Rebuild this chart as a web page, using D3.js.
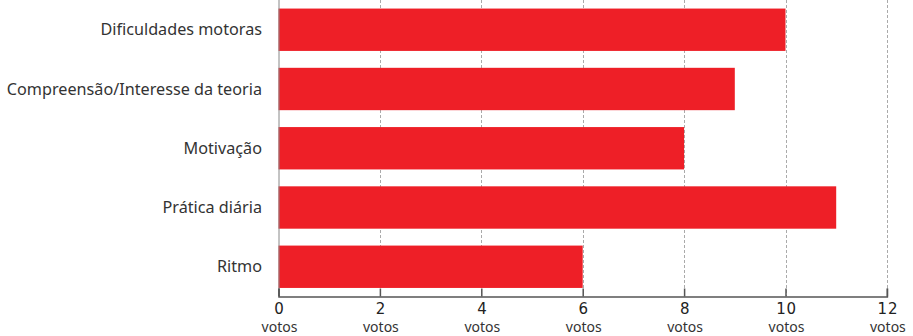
<!DOCTYPE html>
<html>
<head>
<meta charset="utf-8">
<script src="https://cdn.jsdelivr.net/npm/d3@7"></script>
<style>
  body { margin: 0; background: #fff; }
  svg { display: block; }
</style>
</head>
<body>
<div id="chart"></div>
<script>
const width = 913;
const height = 336;

// Dati del grafico
const categories = ["Dificuldades motoras", "Compreensão/Interesse da teoria", "Motivação", "Prática diária", "Ritmo"];
const votes = [10, 9, 8, 11, 6];
const tickValues = [0, 2, 4, 6, 8, 10, 12];
const unitLabel = "votos";

const margin = { top: 0.5, right: 26, bottom: 40, left: 278.5 };

const svg = d3.select("#chart")
    .append("svg")
    .attr("width", width)
    .attr("height", height);

const x = d3.scaleLinear()
    .domain([0, 12])
    .range([margin.left, margin.left + 50.7 * 12]);

const y = d3.scaleBand()
    .domain(categories)
    .range([margin.top, 296])
    .paddingInner(0.285)
    .paddingOuter(0.136);

// Griglia tratteggiata
svg.append("g")
    .selectAll("line")
    .data(tickValues.slice(1))
    .join("line")
    .attr("x1", d => Math.round(x(d)) + 0.5)
    .attr("x2", d => Math.round(x(d)) + 0.5)
    .attr("y1", 0)
    .attr("y2", 296)
    .attr("stroke", "#aaa")
    .attr("stroke-width", 1)
    .attr("stroke-dasharray", "3,2");

// Barre
svg.append("g")
    .selectAll("rect")
    .data(votes)
    .join("rect")
    .attr("x", x(0))
    .attr("y", (d, i) => y(categories[i]))
    .attr("width", d => x(d) - x(0))
    .attr("height", y.bandwidth())
    .attr("fill", "#ee1f27");

// Asse verticale
svg.append("line")
    .attr("x1", x(0) + 0.5)
    .attr("x2", x(0) + 0.5)
    .attr("y1", 0)
    .attr("y2", 296)
    .attr("stroke", "#888")
    .attr("stroke-width", 1);

// Etichette delle categorie
svg.append("g")
    .selectAll("text")
    .data(categories)
    .join("text")
    .attr("x", 262)
    .attr("y", d => y(d) + y.bandwidth() / 2)
    .attr("dy", "0.35em")
    .attr("text-anchor", "end")
    .attr("font-family", "'Noto Sans', sans-serif")
    .attr("font-size", 16.2)
    .attr("fill", "#333")
    .text(d => d);

// Asse orizzontale
const xAxis = svg.append("g")
    .attr("transform", "translate(0,296.5)")
    .call(d3.axisTop(x).tickValues(tickValues).tickSize(8).tickFormat(""));

xAxis.select(".domain").attr("stroke", "#555").attr("stroke-width", 1.5);
xAxis.selectAll(".tick line").attr("stroke", "#555").attr("stroke-width", 1.5);

// Etichette dei tick: numero e unità
const tickLabels = svg.append("g")
    .selectAll("g")
    .data(tickValues)
    .join("g")
    .attr("transform", d => `translate(${x(d) + 1},0)`);

tickLabels.append("text")
    .attr("y", 313.5)
    .attr("text-anchor", "middle")
    .attr("font-family", "'DejaVu Sans', sans-serif")
    .attr("font-size", 15)
    .attr("letter-spacing", 0.8)
    .attr("fill", "#222")
    .text(d => d);

tickLabels.append("text")
    .attr("y", 332)
    .attr("text-anchor", "middle")
    .attr("font-family", "'Noto Sans', sans-serif")
    .attr("font-size", 14)
    .attr("fill", "#333")
    .text(unitLabel);
</script>
</body>
</html>
